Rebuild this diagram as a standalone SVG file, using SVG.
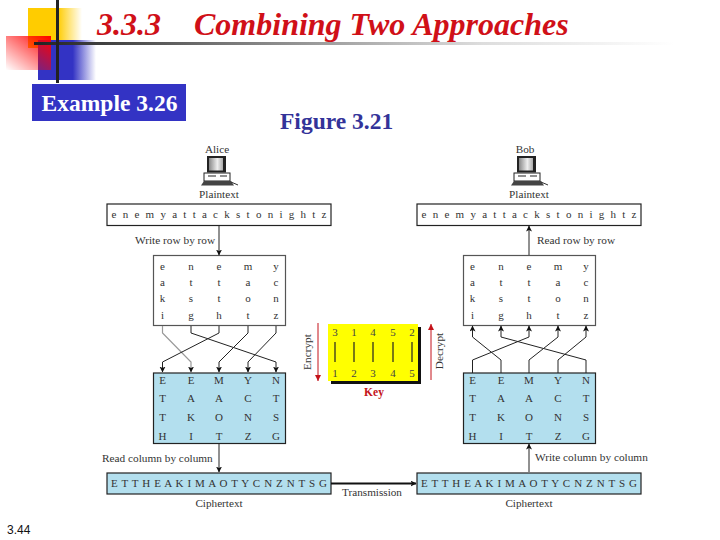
<svg xmlns="http://www.w3.org/2000/svg" width="720" height="540" viewBox="0 0 720 540">
<style>
text{font-family:"Liberation Serif","Times New Roman",serif;fill:#333}
.lbl{font-size:11.300px}
.cap{font-size:11.200px;text-anchor:middle}
.cell{font-size:11px;text-anchor:middle}
.row{font-size:11px;text-anchor:middle}
.title{font-size:32px;font-weight:bold;font-style:italic;fill:#d01018}
.box{fill:#fff;stroke:#222;stroke-width:1.2}
.blue{fill:#b3dfee;stroke:#222;stroke-width:1.2}
.c{fill:none;stroke:#222;stroke-width:1}
.k{font-size:11px;text-anchor:middle;fill:#444}
.kl{stroke:#222;stroke-width:1.2}
</style>
<defs>
<linearGradient id="gy" x1="0" x2="1" y1="0" y2="0"><stop offset="0" stop-color="#fc0"/><stop offset="0.55" stop-color="#fc0"/><stop offset="1" stop-color="#fc0" stop-opacity="0"/></linearGradient>
<linearGradient id="gb" x1="0" x2="1" y1="0" y2="0"><stop offset="0" stop-color="#3333c4"/><stop offset="0.6" stop-color="#3333c4"/><stop offset="1" stop-color="#3333c4" stop-opacity="0"/></linearGradient>
<linearGradient id="gr" x1="1" x2="0" y1="0" y2="1"><stop offset="0" stop-color="#f00"/><stop offset="1" stop-color="#f00" stop-opacity="0"/></linearGradient>
<linearGradient id="gl" x1="0" x2="1" y1="0" y2="0"><stop offset="0" stop-color="#222"/><stop offset="0.3" stop-color="#777"/><stop offset="0.7" stop-color="#ddd"/><stop offset="1" stop-color="#fff"/></linearGradient>
<linearGradient id="gm" x1="0" x2="1" y1="0" y2="0"><stop offset="0" stop-color="#888"/><stop offset="0.6" stop-color="#eee"/><stop offset="1" stop-color="#aaa"/></linearGradient>
<marker id="a" markerWidth="7" markerHeight="7" refX="5.500" refY="3" orient="auto" markerUnits="userSpaceOnUse"><path d="M0,0L6,3L0,6L1.500,3z" fill="#111"/></marker>
<marker id="r" markerWidth="8" markerHeight="8" refX="6" refY="3" orient="auto" markerUnits="userSpaceOnUse"><path d="M0,0L6,3L0,6z" fill="#c4131a"/></marker>
<g id="pc">
<rect x="0" y="0" width="19" height="16.500" fill="#222"/><rect x="2" y="2" width="14" height="12.500" fill="url(#gm)"/>
<rect x="-3" y="17" width="26" height="8" fill="#fff" stroke="#222" stroke-width="1"/><path d="M1,20h8M13,20h7" stroke="#222" stroke-width="1"/>
<path d="M-6,29.500L-3,25H24L27,29.500z" fill="#444"/><path d="M24,26L31,29" stroke="#333" stroke-width="1" fill="none"/>
</g>
</defs>
<g id="decor">
<rect x="28" y="8" width="54" height="40" fill="url(#gy)"/>
<rect x="38" y="40" width="58" height="40" fill="url(#gb)"/>
<rect x="6" y="36" width="45" height="34" fill="url(#gr)"/>
<rect x="34" y="42" width="640" height="3" fill="url(#gl)"/>
<rect x="56" y="0" width="3" height="83" fill="#222"/>
</g>
<text class="title" x="97" y="35">3.3.3</text>
<text class="title" x="194" y="35">Combining Two Approaches</text>
<g id="example"><rect x="32" y="84" width="154" height="37" fill="#3333c4"/><text x="109.500" y="110.500" text-anchor="middle" style="font-size:23.500px;font-weight:bold;fill:#fff">Example 3.26</text></g>
<text x="280" y="129" style="font-size:23.500px;font-weight:bold;fill:#333399">Figure 3.21</text>
<text x="7" y="534" style="font-family:'Liberation Sans',sans-serif;font-size:12px;fill:#111">3.44</text>

<g id="alice"><text class="cap" x="217" y="153">Alice</text><use href="#pc" x="207" y="156"/><text class="cap" x="219" y="198">Plaintext</text></g>
<g id="bob"><text class="cap" x="525" y="153">Bob</text><use href="#pc" x="517" y="156"/><text class="cap" x="529" y="198">Plaintext</text></g>

<g id="plain-l"><rect class="box" x="107" y="204" width="224" height="21.500"/><text class="row" x="219" y="218" textLength="215" lengthAdjust="spacing">e n e m y a t t a c k s t o n i g h t z</text></g>
<g id="plain-r"><rect class="box" x="417" y="204" width="224" height="21.500"/><text class="row" x="529" y="218" textLength="215" lengthAdjust="spacing">e n e m y a t t a c k s t o n i g h t z</text></g>

<g id="grid-l"><rect x="153.500" y="255.500" width="132" height="70" fill="#fff" stroke="#555" stroke-width="1.200"/>
<text class="cell" x="162.500" y="270">e</text><text class="cell" x="191" y="270">n</text><text class="cell" x="219" y="270">e</text><text class="cell" x="248" y="270">m</text><text class="cell" x="276" y="270">y</text>
<text class="cell" x="162.500" y="286">a</text><text class="cell" x="191" y="286">t</text><text class="cell" x="219" y="286">t</text><text class="cell" x="248" y="286">a</text><text class="cell" x="276" y="286">c</text>
<text class="cell" x="162.500" y="302">k</text><text class="cell" x="191" y="302">s</text><text class="cell" x="219" y="302">t</text><text class="cell" x="248" y="302">o</text><text class="cell" x="276" y="302">n</text>
<text class="cell" x="162.500" y="319">i</text><text class="cell" x="191" y="319">g</text><text class="cell" x="219" y="319">h</text><text class="cell" x="248" y="319">t</text><text class="cell" x="276" y="319">z</text>
</g>
<g id="grid-r"><rect x="463.500" y="255.500" width="132" height="70" fill="#fff" stroke="#555" stroke-width="1.200"/>
<text class="cell" x="472.500" y="270">e</text><text class="cell" x="501" y="270">n</text><text class="cell" x="529" y="270">e</text><text class="cell" x="558" y="270">m</text><text class="cell" x="586" y="270">y</text>
<text class="cell" x="472.500" y="286">a</text><text class="cell" x="501" y="286">t</text><text class="cell" x="529" y="286">t</text><text class="cell" x="558" y="286">a</text><text class="cell" x="586" y="286">c</text>
<text class="cell" x="472.500" y="302">k</text><text class="cell" x="501" y="302">s</text><text class="cell" x="529" y="302">t</text><text class="cell" x="558" y="302">o</text><text class="cell" x="586" y="302">n</text>
<text class="cell" x="472.500" y="319">i</text><text class="cell" x="501" y="319">g</text><text class="cell" x="529" y="319">h</text><text class="cell" x="558" y="319">t</text><text class="cell" x="586" y="319">z</text>
</g>
<g id="blue-l"><rect class="blue" x="153.500" y="373" width="132" height="70.500"/>
<text class="cell" x="162.500" y="384">E</text><text class="cell" x="191" y="384">E</text><text class="cell" x="219" y="384">M</text><text class="cell" x="248" y="384">Y</text><text class="cell" x="276" y="384">N</text>
<text class="cell" x="162.500" y="402">T</text><text class="cell" x="191" y="402">A</text><text class="cell" x="219" y="402">A</text><text class="cell" x="248" y="402">C</text><text class="cell" x="276" y="402">T</text>
<text class="cell" x="162.500" y="421">T</text><text class="cell" x="191" y="421">K</text><text class="cell" x="219" y="421">O</text><text class="cell" x="248" y="421">N</text><text class="cell" x="276" y="421">S</text>
<text class="cell" x="162.500" y="440">H</text><text class="cell" x="191" y="440">I</text><text class="cell" x="219" y="440">T</text><text class="cell" x="248" y="440">Z</text><text class="cell" x="276" y="440">G</text>
</g>
<g id="blue-r"><rect class="blue" x="463.500" y="373" width="132" height="70.500"/>
<text class="cell" x="472.500" y="384">E</text><text class="cell" x="501" y="384">E</text><text class="cell" x="529" y="384">M</text><text class="cell" x="558" y="384">Y</text><text class="cell" x="586" y="384">N</text>
<text class="cell" x="472.500" y="402">T</text><text class="cell" x="501" y="402">A</text><text class="cell" x="529" y="402">A</text><text class="cell" x="558" y="402">C</text><text class="cell" x="586" y="402">T</text>
<text class="cell" x="472.500" y="421">T</text><text class="cell" x="501" y="421">K</text><text class="cell" x="529" y="421">O</text><text class="cell" x="558" y="421">N</text><text class="cell" x="586" y="421">S</text>
<text class="cell" x="472.500" y="440">H</text><text class="cell" x="501" y="440">I</text><text class="cell" x="529" y="440">T</text><text class="cell" x="558" y="440">Z</text><text class="cell" x="586" y="440">G</text>
</g>
<g id="cipher-l"><rect class="blue" x="107" y="473" width="224" height="21"/><text class="row" x="219" y="487" textLength="216" lengthAdjust="spacing">E T T H E A K I M A O T Y C N Z N T S G</text></g>
<g id="cipher-r"><rect class="blue" x="417" y="473" width="224" height="21"/><text class="row" x="529" y="487" textLength="216" lengthAdjust="spacing">E T T H E A K I M A O T Y C N Z N T S G</text></g>

<g id="key"><rect x="331" y="327" width="90" height="57" fill="#111"/><rect x="328" y="324" width="90" height="57" fill="#ff0"/>
<text class="k" x="335" y="336">3</text><text class="k" x="354" y="336">1</text><text class="k" x="373" y="336">4</text><text class="k" x="393" y="336">5</text><text class="k" x="412" y="336">2</text>
<path class="kl" d="M335,342V362M354,342V362M373,342V362M393,342V362M412,342V362"/>
<text class="k" x="335" y="377">1</text><text class="k" x="354" y="377">2</text><text class="k" x="373" y="377">3</text><text class="k" x="393" y="377">4</text><text class="k" x="412" y="377">5</text>
<text x="374" y="396" text-anchor="middle" style="font-size:11.500px;font-weight:bold;fill:#c4131a">Key</text></g>
<text class="lbl" x="0" y="0" text-anchor="middle" transform="translate(311,352) rotate(-90)">Encrypt</text>
<text class="lbl" x="0" y="0" text-anchor="middle" transform="translate(443,351) rotate(-90)">Decrypt</text>
<text class="lbl" x="135" y="244">Write row by row</text>
<text class="lbl" x="537" y="244">Read row by row</text>
<text class="lbl" x="102" y="462">Read column by column</text>
<text class="lbl" x="535" y="461">Write column by column</text>
<text class="cap" x="219" y="507">Ciphertext</text>
<text class="cap" x="529" y="507">Ciphertext</text>
<text class="cap" x="372" y="496">Transmission</text>

<g id="connectors">
<path class="c" d="M219,226V255" marker-end="url(#a)"/>
<path class="c" d="M529,255V226" marker-end="url(#a)"/>
<path class="c" d="M219,443.500V472" marker-end="url(#a)"/>
<path class="c" d="M529,472V444" marker-end="url(#a)"/>
<path d="M331,483.500H416" fill="none" stroke="#111" stroke-width="2" marker-end="url(#a)"/>
<path class="c" d="M162.500,326V333L191,362V372" style="stroke:#999;stroke-width:1.200" marker-end="url(#a)"/>
<path class="c" d="M191,326V333L276,362V372" marker-end="url(#a)"/>
<path class="c" d="M219,326V333L162.500,362V372" marker-end="url(#a)"/>
<path class="c" d="M248,326V333L219,362V372" marker-end="url(#a)"/>
<path class="c" d="M276,326V333L248,362V372" marker-end="url(#a)"/>
<path class="c" d="M472.500,373V360L529,337V326" marker-end="url(#a)"/>
<path class="c" d="M501,373V360L472.500,337V326" marker-end="url(#a)"/>
<path class="c" d="M529,373V360L558,337V326" marker-end="url(#a)"/>
<path class="c" d="M558,373V360L586,337V326" marker-end="url(#a)"/>
<path class="c" d="M586,373V360L501,337V326" marker-end="url(#a)"/>
<path d="M318,323V381" fill="none" stroke="#c4131a" stroke-width="1" marker-end="url(#r)"/>
<path d="M431,380V324" fill="none" stroke="#c4131a" stroke-width="1" marker-end="url(#r)"/>
</g>
</svg>
